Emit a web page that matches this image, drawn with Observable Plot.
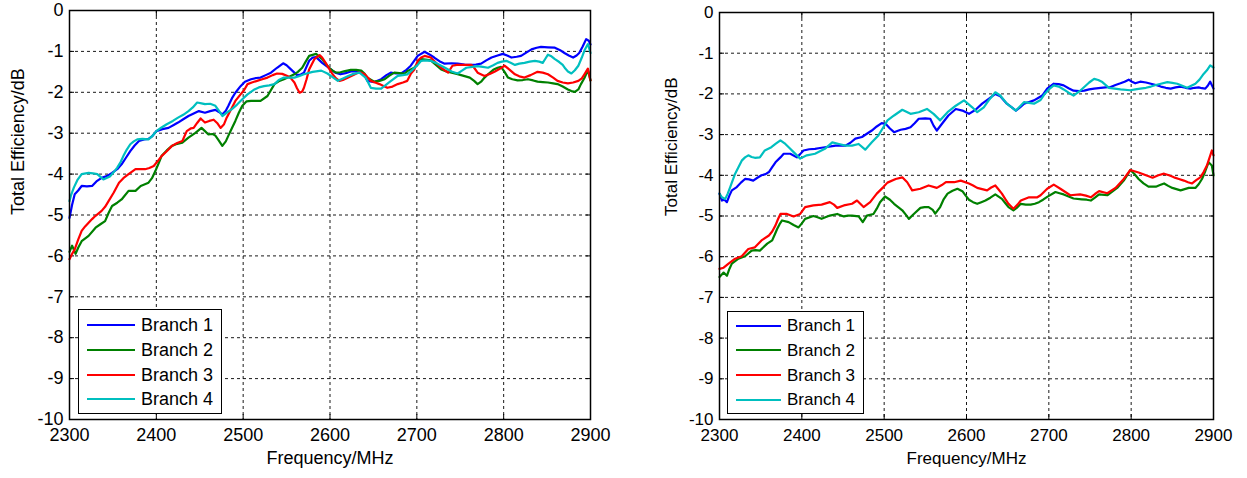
<!DOCTYPE html>
<html><head><meta charset="utf-8">
<script src="https://cdn.jsdelivr.net/npm/d3@7"></script>
<script src="https://cdn.jsdelivr.net/npm/@observablehq/plot@0.6"></script>
<style>
body{margin:0;background:#fff;width:1247px;height:478px;position:relative;overflow:hidden;font-family:"Liberation Sans",Arial,sans-serif;}
.panel{position:absolute;top:0;}
.legend{position:absolute;background:#fff;border:1px solid #000;box-sizing:border-box;}
.legend .row{position:absolute;left:0;white-space:nowrap;line-height:1;}
.legend svg{position:absolute;overflow:visible;}
</style></head><body>
<div id="left" class="panel" style="left:0"></div>
<div id="right" class="panel" style="left:650px"></div>
<script>
const freqTicks = [2300, 2400, 2500, 2600, 2700, 2800, 2900];
const effTicks = [0, -1, -2, -3, -4, -5, -6, -7, -8, -9, -10];
const branches = ["Branch 1", "Branch 2", "Branch 3", "Branch 4"];
const colors = ["#0000ff", "#008000", "#ff0000", "#00bfbf"];
const xLabel = "Frequency/MHz";
const yLabel = "Total Efficiency/dB";

// Left panel
const leftB1 = [[2300,-5.07],[2303,-4.75],[2306,-4.49],[2310,-4.40],[2314,-4.29],[2320,-4.30],[2326,-4.29],[2331,-4.18],[2337,-4.09],[2343,-4.05],[2349,-3.97],[2355,-3.88],[2360,-3.76],[2365,-3.60],[2370,-3.44],[2375,-3.30],[2380,-3.19],[2386,-3.15],[2391,-3.14],[2395,-3.08],[2400,-2.95],[2407,-2.90],[2414,-2.87],[2420,-2.80],[2425,-2.74],[2431,-2.66],[2437,-2.58],[2443,-2.52],[2449,-2.46],[2456,-2.50],[2462,-2.46],[2468,-2.43],[2472,-2.48],[2476,-2.54],[2480,-2.45],[2483,-2.33],[2487,-2.15],[2491,-2.01],[2497,-1.85],[2502,-1.74],[2509,-1.68],[2515,-1.65],[2520,-1.64],[2526,-1.58],[2532,-1.52],[2539,-1.40],[2546,-1.29],[2550,-1.34],[2555,-1.44],[2562,-1.58],[2566,-1.57],[2570,-1.52],[2576,-1.23],[2580,-1.15],[2584,-1.14],[2591,-1.28],[2596,-1.36],[2601,-1.44],[2606,-1.52],[2612,-1.56],[2618,-1.53],[2624,-1.49],[2630,-1.48],[2636,-1.49],[2640,-1.60],[2643,-1.72],[2651,-1.75],[2659,-1.68],[2665,-1.58],[2670,-1.52],[2676,-1.54],[2682,-1.54],[2688,-1.45],[2693,-1.35],[2701,-1.11],[2709,-1.01],[2715,-1.08],[2720,-1.15],[2726,-1.24],[2732,-1.30],[2740,-1.29],[2747,-1.30],[2755,-1.32],[2763,-1.33],[2768,-1.32],[2774,-1.30],[2780,-1.22],[2786,-1.15],[2793,-1.10],[2799,-1.06],[2804,-1.10],[2809,-1.15],[2815,-1.13],[2820,-1.11],[2826,-1.03],[2832,-0.95],[2838,-0.91],[2843,-0.89],[2851,-0.90],[2859,-0.91],[2865,-0.97],[2870,-1.04],[2875,-1.10],[2880,-1.15],[2884,-1.10],[2887,-1.04],[2891,-0.88],[2895,-0.70],[2898,-0.74],[2900,-0.83]];
const leftB2 = [[2300,-5.90],[2303,-5.75],[2307,-5.95],[2310,-5.80],[2314,-5.64],[2322,-5.51],[2330,-5.31],[2336,-5.22],[2341,-5.15],[2345,-4.95],[2349,-4.78],[2355,-4.70],[2360,-4.62],[2368,-4.41],[2376,-4.41],[2382,-4.29],[2391,-4.21],[2395,-4.10],[2399,-3.92],[2403,-3.72],[2406,-3.56],[2412,-3.42],[2418,-3.31],[2424,-3.26],[2430,-3.23],[2437,-3.11],[2445,-2.99],[2452,-2.87],[2456,-2.95],[2460,-3.03],[2465,-3.02],[2468,-3.06],[2472,-3.18],[2476,-3.31],[2480,-3.20],[2483,-3.06],[2487,-2.88],[2491,-2.70],[2495,-2.50],[2499,-2.33],[2504,-2.22],[2509,-2.21],[2515,-2.21],[2520,-2.21],[2528,-2.09],[2536,-1.80],[2541,-1.73],[2547,-1.68],[2553,-1.62],[2559,-1.56],[2563,-1.50],[2568,-1.40],[2572,-1.25],[2576,-1.11],[2584,-1.06],[2591,-1.19],[2595,-1.30],[2599,-1.40],[2603,-1.47],[2607,-1.52],[2612,-1.51],[2616,-1.49],[2624,-1.45],[2630,-1.45],[2636,-1.47],[2640,-1.55],[2643,-1.64],[2651,-1.74],[2657,-1.72],[2663,-1.68],[2668,-1.60],[2674,-1.52],[2680,-1.53],[2686,-1.54],[2690,-1.47],[2697,-1.40],[2701,-1.30],[2705,-1.19],[2710,-1.20],[2716,-1.22],[2722,-1.33],[2728,-1.44],[2734,-1.49],[2740,-1.52],[2746,-1.55],[2751,-1.58],[2756,-1.61],[2761,-1.64],[2766,-1.72],[2770,-1.80],[2774,-1.74],[2778,-1.64],[2783,-1.54],[2788,-1.45],[2793,-1.40],[2797,-1.38],[2801,-1.50],[2805,-1.64],[2810,-1.68],[2816,-1.71],[2822,-1.70],[2828,-1.68],[2834,-1.71],[2839,-1.74],[2845,-1.75],[2851,-1.76],[2857,-1.78],[2862,-1.80],[2868,-1.86],[2874,-1.93],[2878,-1.97],[2882,-1.99],[2886,-1.93],[2889,-1.80],[2893,-1.65],[2897,-1.46],[2900,-1.71]];
const leftB3 = [[2300,-6.08],[2303,-5.95],[2306,-5.84],[2310,-5.60],[2314,-5.39],[2318,-5.28],[2322,-5.19],[2326,-5.10],[2330,-5.02],[2337,-4.90],[2341,-4.80],[2345,-4.66],[2351,-4.45],[2357,-4.21],[2362,-4.10],[2368,-4.00],[2376,-3.88],[2382,-3.88],[2387,-3.88],[2392,-3.85],[2397,-3.80],[2401,-3.70],[2406,-3.56],[2412,-3.44],[2418,-3.31],[2424,-3.24],[2430,-3.19],[2435,-2.95],[2440,-2.88],[2443,-2.87],[2447,-2.75],[2451,-2.64],[2456,-2.74],[2461,-2.70],[2466,-2.67],[2470,-2.75],[2474,-2.87],[2478,-2.78],[2481,-2.62],[2486,-2.42],[2491,-2.21],[2497,-2.05],[2501,-1.95],[2505,-1.80],[2510,-1.76],[2516,-1.72],[2522,-1.68],[2528,-1.64],[2534,-1.58],[2539,-1.54],[2545,-1.55],[2551,-1.60],[2555,-1.66],[2559,-1.76],[2562,-1.90],[2565,-2.01],[2568,-1.98],[2570,-1.89],[2573,-1.68],[2576,-1.44],[2582,-1.19],[2588,-1.09],[2591,-1.15],[2595,-1.28],[2599,-1.42],[2603,-1.56],[2607,-1.66],[2611,-1.72],[2616,-1.69],[2621,-1.64],[2627,-1.58],[2632,-1.52],[2636,-1.52],[2640,-1.56],[2644,-1.65],[2647,-1.72],[2652,-1.76],[2657,-1.80],[2661,-1.84],[2666,-1.89],[2672,-1.86],[2678,-1.80],[2684,-1.76],[2689,-1.72],[2693,-1.55],[2697,-1.45],[2701,-1.23],[2705,-1.15],[2709,-1.11],[2716,-1.15],[2722,-1.28],[2728,-1.40],[2736,-1.52],[2741,-1.35],[2746,-1.33],[2751,-1.33],[2757,-1.33],[2763,-1.33],[2766,-1.40],[2770,-1.52],[2778,-1.60],[2784,-1.55],[2790,-1.49],[2796,-1.42],[2801,-1.35],[2807,-1.45],[2813,-1.56],[2818,-1.61],[2824,-1.64],[2831,-1.58],[2839,-1.50],[2845,-1.52],[2851,-1.56],[2857,-1.64],[2862,-1.72],[2868,-1.76],[2874,-1.78],[2880,-1.76],[2886,-1.72],[2890,-1.66],[2893,-1.56],[2897,-1.42],[2900,-1.71]];
const leftB4 = [[2300,-4.66],[2302,-4.50],[2305,-4.33],[2309,-4.15],[2314,-4.00],[2322,-3.97],[2327,-3.98],[2332,-4.00],[2339,-4.13],[2347,-4.05],[2351,-3.95],[2355,-3.84],[2359,-3.70],[2362,-3.56],[2366,-3.40],[2370,-3.27],[2374,-3.20],[2378,-3.15],[2384,-3.14],[2391,-3.15],[2395,-3.08],[2400,-2.95],[2406,-2.86],[2412,-2.78],[2419,-2.70],[2425,-2.62],[2431,-2.55],[2437,-2.46],[2442,-2.37],[2447,-2.25],[2452,-2.27],[2456,-2.29],[2462,-2.28],[2468,-2.33],[2472,-2.45],[2476,-2.58],[2481,-2.50],[2487,-2.41],[2493,-2.30],[2499,-2.17],[2505,-2.05],[2513,-1.93],[2518,-1.88],[2524,-1.85],[2530,-1.83],[2536,-1.80],[2541,-1.70],[2547,-1.64],[2553,-1.64],[2559,-1.64],[2565,-1.60],[2570,-1.56],[2580,-1.50],[2590,-1.47],[2597,-1.54],[2603,-1.63],[2609,-1.72],[2615,-1.66],[2621,-1.60],[2627,-1.55],[2634,-1.52],[2641,-1.64],[2647,-1.89],[2653,-1.91],[2659,-1.91],[2663,-1.84],[2668,-1.76],[2673,-1.68],[2678,-1.60],[2684,-1.58],[2689,-1.56],[2695,-1.45],[2701,-1.33],[2705,-1.23],[2710,-1.22],[2716,-1.23],[2722,-1.28],[2728,-1.35],[2734,-1.42],[2740,-1.49],[2747,-1.54],[2752,-1.47],[2757,-1.40],[2764,-1.38],[2770,-1.36],[2776,-1.38],[2782,-1.40],[2788,-1.34],[2793,-1.28],[2798,-1.25],[2803,-1.23],[2808,-1.28],[2813,-1.33],[2818,-1.30],[2824,-1.28],[2830,-1.25],[2836,-1.23],[2841,-1.25],[2845,-1.28],[2848,-1.18],[2851,-1.08],[2855,-1.12],[2859,-1.19],[2864,-1.26],[2868,-1.33],[2871,-1.42],[2874,-1.49],[2878,-1.54],[2882,-1.46],[2886,-1.35],[2890,-1.15],[2893,-0.98],[2897,-0.82],[2900,-1.04]];

// Right panel
const rightB1 = [[2300,-4.45],[2303,-4.62],[2306,-4.60],[2309,-4.66],[2312,-4.50],[2315,-4.37],[2321,-4.29],[2326,-4.18],[2331,-4.09],[2336,-4.10],[2341,-4.13],[2346,-4.06],[2351,-4.00],[2356,-3.97],[2360,-3.92],[2364,-3.80],[2368,-3.68],[2374,-3.56],[2378,-3.47],[2386,-3.47],[2394,-3.56],[2398,-3.48],[2402,-3.39],[2409,-3.36],[2416,-3.35],[2422,-3.33],[2428,-3.31],[2435,-3.29],[2441,-3.27],[2447,-3.27],[2453,-3.27],[2459,-3.20],[2465,-3.10],[2473,-3.06],[2479,-2.98],[2485,-2.90],[2491,-2.80],[2497,-2.72],[2502,-2.74],[2507,-2.85],[2512,-2.94],[2520,-2.88],[2526,-2.86],[2532,-2.82],[2537,-2.72],[2542,-2.61],[2550,-2.60],[2556,-2.61],[2560,-2.78],[2564,-2.90],[2570,-2.74],[2578,-2.53],[2587,-2.37],[2595,-2.41],[2603,-2.49],[2611,-2.39],[2619,-2.24],[2627,-2.12],[2635,-2.00],[2641,-2.06],[2649,-2.24],[2655,-2.33],[2660,-2.41],[2665,-2.33],[2670,-2.24],[2676,-2.20],[2682,-2.16],[2687,-2.10],[2692,-2.04],[2698,-1.87],[2706,-1.75],[2712,-1.76],[2718,-1.79],[2724,-1.86],[2730,-1.92],[2737,-1.93],[2743,-1.92],[2749,-1.89],[2755,-1.87],[2763,-1.85],[2769,-1.84],[2775,-1.83],[2781,-1.78],[2787,-1.74],[2792,-1.70],[2797,-1.65],[2801,-1.70],[2805,-1.74],[2811,-1.70],[2818,-1.72],[2824,-1.75],[2830,-1.78],[2836,-1.82],[2842,-1.85],[2848,-1.87],[2854,-1.84],[2860,-1.82],[2866,-1.85],[2872,-1.87],[2877,-1.85],[2882,-1.84],[2886,-1.86],[2890,-1.87],[2893,-1.80],[2896,-1.70],[2900,-1.87]];
const rightB2 = [[2300,-6.50],[2305,-6.39],[2309,-6.47],[2312,-6.30],[2315,-6.17],[2323,-6.05],[2331,-5.99],[2339,-5.85],[2344,-5.84],[2349,-5.85],[2358,-5.68],[2364,-5.60],[2367,-5.46],[2370,-5.32],[2373,-5.20],[2376,-5.11],[2384,-5.15],[2390,-5.22],[2396,-5.28],[2400,-5.18],[2404,-5.07],[2414,-5.00],[2419,-5.03],[2424,-5.07],[2434,-4.99],[2443,-4.95],[2451,-5.01],[2456,-4.99],[2461,-4.99],[2469,-5.01],[2474,-5.15],[2479,-4.99],[2487,-4.95],[2491,-4.82],[2495,-4.66],[2501,-4.52],[2507,-4.60],[2512,-4.70],[2517,-4.78],[2522,-4.86],[2526,-4.96],[2530,-5.07],[2536,-4.95],[2544,-4.80],[2549,-4.78],[2554,-4.78],[2559,-4.85],[2562,-4.94],[2568,-4.78],[2572,-4.60],[2577,-4.45],[2583,-4.38],[2589,-4.33],[2595,-4.39],[2599,-4.50],[2603,-4.60],[2608,-4.66],[2613,-4.70],[2618,-4.66],[2623,-4.62],[2629,-4.55],[2635,-4.47],[2643,-4.58],[2647,-4.68],[2651,-4.78],[2657,-4.86],[2661,-4.80],[2666,-4.70],[2672,-4.72],[2678,-4.72],[2683,-4.70],[2688,-4.66],[2693,-4.60],[2698,-4.53],[2708,-4.41],[2713,-4.44],[2718,-4.47],[2724,-4.52],[2730,-4.57],[2740,-4.59],[2746,-4.60],[2751,-4.62],[2756,-4.55],[2761,-4.47],[2771,-4.49],[2777,-4.40],[2783,-4.31],[2791,-4.13],[2795,-4.00],[2799,-3.87],[2804,-3.97],[2809,-4.09],[2815,-4.20],[2821,-4.28],[2830,-4.28],[2835,-4.24],[2840,-4.20],[2845,-4.26],[2850,-4.31],[2855,-4.34],[2860,-4.37],[2865,-4.34],[2870,-4.31],[2878,-4.31],[2882,-4.22],[2886,-4.09],[2890,-3.90],[2894,-3.68],[2898,-3.76],[2900,-4.00]];
const rightB3 = [[2300,-6.30],[2305,-6.27],[2311,-6.17],[2319,-6.05],[2327,-5.99],[2335,-5.81],[2343,-5.77],[2351,-5.60],[2360,-5.48],[2364,-5.38],[2368,-5.23],[2371,-5.08],[2374,-4.95],[2382,-4.95],[2390,-5.01],[2398,-4.95],[2404,-4.78],[2414,-4.74],[2424,-4.72],[2434,-4.66],[2439,-4.72],[2443,-4.80],[2451,-4.74],[2461,-4.70],[2467,-4.62],[2471,-4.70],[2475,-4.78],[2483,-4.66],[2491,-4.45],[2499,-4.29],[2504,-4.18],[2514,-4.09],[2522,-4.05],[2528,-4.17],[2534,-4.37],[2544,-4.33],[2554,-4.25],[2564,-4.31],[2570,-4.24],[2575,-4.17],[2585,-4.17],[2593,-4.13],[2603,-4.20],[2608,-4.25],[2613,-4.31],[2619,-4.34],[2625,-4.37],[2630,-4.30],[2635,-4.25],[2639,-4.35],[2643,-4.45],[2647,-4.58],[2651,-4.70],[2657,-4.82],[2662,-4.72],[2666,-4.62],[2676,-4.54],[2686,-4.54],[2690,-4.49],[2694,-4.41],[2698,-4.33],[2706,-4.23],[2714,-4.33],[2720,-4.41],[2726,-4.49],[2738,-4.47],[2745,-4.50],[2751,-4.54],[2756,-4.46],[2761,-4.39],[2771,-4.44],[2781,-4.31],[2786,-4.20],[2791,-4.09],[2795,-3.98],[2799,-3.87],[2809,-3.93],[2818,-4.00],[2826,-4.06],[2833,-4.00],[2840,-3.96],[2846,-4.00],[2852,-4.05],[2858,-4.09],[2864,-4.13],[2869,-4.17],[2874,-4.20],[2879,-4.12],[2884,-4.05],[2888,-3.92],[2892,-3.76],[2895,-3.58],[2898,-3.39],[2900,-3.51]];
const rightB4 = [[2300,-4.45],[2303,-4.54],[2307,-4.58],[2310,-4.45],[2313,-4.29],[2319,-3.96],[2323,-3.80],[2327,-3.64],[2331,-3.56],[2335,-3.51],[2339,-3.55],[2343,-3.57],[2349,-3.56],[2355,-3.39],[2363,-3.31],[2368,-3.23],[2374,-3.14],[2380,-3.23],[2385,-3.33],[2390,-3.43],[2398,-3.59],[2406,-3.51],[2416,-3.47],[2422,-3.41],[2428,-3.35],[2437,-3.19],[2445,-3.23],[2453,-3.27],[2461,-3.27],[2469,-3.23],[2477,-3.37],[2485,-3.19],[2493,-3.02],[2499,-2.82],[2504,-2.65],[2512,-2.53],[2522,-2.39],[2532,-2.49],[2542,-2.45],[2552,-2.37],[2560,-2.49],[2568,-2.65],[2577,-2.45],[2587,-2.29],[2597,-2.16],[2607,-2.33],[2613,-2.45],[2621,-2.33],[2627,-2.16],[2635,-1.96],[2641,-2.04],[2649,-2.24],[2660,-2.41],[2670,-2.20],[2682,-2.24],[2690,-2.15],[2695,-2.00],[2700,-1.89],[2706,-1.79],[2712,-1.82],[2718,-1.89],[2724,-1.97],[2730,-2.04],[2737,-1.94],[2743,-1.83],[2749,-1.72],[2755,-1.63],[2760,-1.66],[2765,-1.71],[2773,-1.85],[2780,-1.87],[2787,-1.89],[2799,-1.91],[2805,-1.89],[2811,-1.87],[2818,-1.85],[2824,-1.82],[2830,-1.78],[2836,-1.75],[2844,-1.71],[2850,-1.73],[2856,-1.75],[2862,-1.80],[2868,-1.85],[2873,-1.80],[2878,-1.75],[2883,-1.65],[2888,-1.51],[2892,-1.42],[2896,-1.30],[2900,-1.35]];

const fmt = d => String(d);

function panel(series, o) {
  const data = series.flatMap((s, i) => s.map(([f, v]) => ({f, v, branch: branches[i]})));
  const gridStyle = {stroke: "#000", strokeOpacity: 0.9, strokeDasharray: "3,3", strokeWidth: 1};
  const tickStyle = {tickSize: -5, fill: "none", label: null, stroke: "#000", strokeWidth: 1};
  return Plot.plot({
    width: o.width, height: 478,
    marginLeft: 69, marginRight: o.marginRight, marginTop: o.marginTop, marginBottom: 59,
    style: {fontFamily: "'Liberation Sans', Arial, sans-serif", fontSize: o.fs + "px", color: "#000", background: "#fff", overflow: "visible"},
    x: {domain: [2300, 2900]},
    y: {domain: [-10, 0]},
    color: {domain: branches, range: colors},
    marks: [
      Plot.gridX(freqTicks.slice(1, -1), gridStyle),
      Plot.gridY(effTicks.slice(1, -1), gridStyle),
      Plot.axisX(freqTicks, {tickSize: 0, tickPadding: 9, tickFormat: fmt, label: null, fontSize: o.fs}),
      Plot.axisY(effTicks, {tickSize: 0, tickPadding: 6, tickFormat: fmt, label: null, fontSize: o.fs}),
      Plot.axisX(freqTicks, {anchor: "bottom", ...tickStyle}),
      Plot.axisX(freqTicks, {anchor: "top", ...tickStyle}),
      Plot.axisY(effTicks, {anchor: "left", ...tickStyle}),
      Plot.axisY(effTicks, {anchor: "right", ...tickStyle}),
      Plot.line(data, {x: "f", y: "v", z: "branch", stroke: "branch", strokeWidth: 2.2}),
      Plot.frame({stroke: "#000", strokeWidth: 1.5}),
      Plot.text([xLabel], {frameAnchor: "bottom", dy: 44, fontSize: o.fs, fill: "#000"}),
      Plot.text([yLabel], {frameAnchor: "left", dx: o.ylabelDx, rotate: -90, fontSize: o.fs, fill: "#000"})
    ]
  });
}

function legend(o) {
  const box = document.createElement("div");
  box.className = "legend";
  Object.assign(box.style, {left: o.left + "px", top: o.top + "px", width: o.w + "px", height: o.h + "px", fontSize: o.fs + "px"});
  branches.forEach((name, i) => {
    const cy = o.first + i * o.step;
    const svg = document.createElementNS("http://www.w3.org/2000/svg", "svg");
    svg.setAttribute("width", o.swatch); svg.setAttribute("height", 4);
    svg.style.left = o.sx + "px"; svg.style.top = (cy - 2) + "px";
    const ln = document.createElementNS("http://www.w3.org/2000/svg", "line");
    ln.setAttribute("x1", 0); ln.setAttribute("x2", o.swatch); ln.setAttribute("y1", 2); ln.setAttribute("y2", 2);
    ln.setAttribute("stroke", colors[i]); ln.setAttribute("stroke-width", 2.2);
    svg.appendChild(ln);
    box.appendChild(svg);
    const t = document.createElement("div");
    t.className = "row";
    t.textContent = name;
    t.style.left = o.tx + "px";
    t.style.top = (cy - o.fs * 0.5) + "px";
    box.appendChild(t);
  });
  return box;
}

const L = document.getElementById("left");
L.appendChild(panel([leftB1, leftB2, leftB3, leftB4], {width: 623, marginRight: 33, marginTop: 10, fs: 18, ylabelDx: -51}));
L.appendChild(legend({left: 78, top: 309, w: 144, h: 105, fs: 18, first: 15, step: 24.8, sx: 8, swatch: 48, tx: 62}));

const R = document.getElementById("right");
R.appendChild(panel([rightB1, rightB2, rightB3, rightB4], {width: 597, marginRight: 34, marginTop: 12, fs: 17, ylabelDx: -48}));
R.appendChild(legend({left: 77, top: 311, w: 137, h: 103, fs: 17, first: 13.7, step: 24.7, sx: 8, swatch: 45, tx: 59}));
</script>
</body></html>
